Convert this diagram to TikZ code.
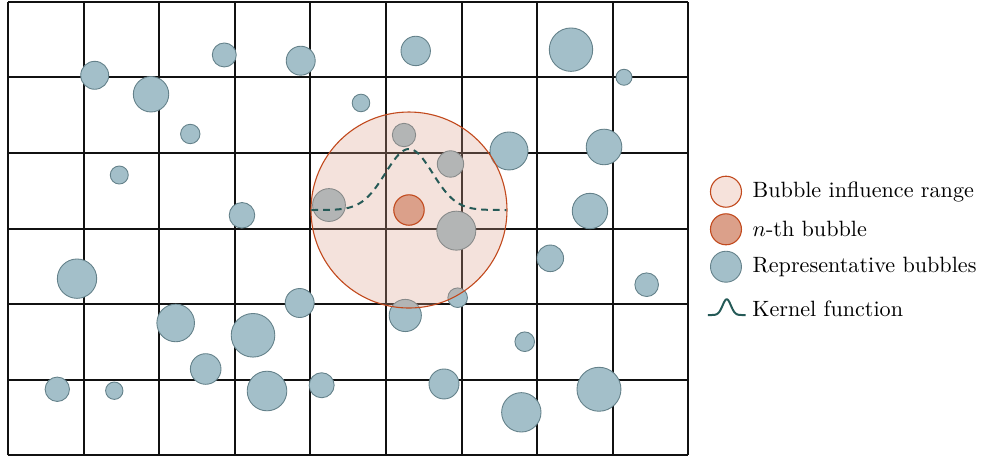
\documentclass[tikz,border=0pt]{standalone}
\usepackage{amsmath}
\usepackage{tikz}
\usetikzlibrary{positioning}
\usepackage{xcolor}
\definecolor{gridblack}{HTML}{111111}
\definecolor{bubblefill}{HTML}{A3BFC9}
\definecolor{bubbleline}{HTML}{64818A}
\definecolor{nthfill}{HTML}{DBA08A}
\definecolor{nthline}{HTML}{C24A1E}
\definecolor{rangefill}{HTML}{F6E2DB}
\definecolor{kernelteal}{HTML}{255A57}
\tikzset{
  gridline/.style={draw=gridblack, line width=0.9pt},
  bubble/.style={circle, draw=bubbleline, line width=0.4pt, fill=bubblefill, inner sep=0pt, minimum size=#1},
  nthbubble/.style={circle, draw=nthline, line width=0.5pt, fill=nthfill, inner sep=0pt, minimum size=#1},
  rangecircle/.style={circle, draw=nthline, line width=0.5pt, fill=nthfill, fill opacity=0.3, inner sep=0pt, minimum size=#1},
  rangelegend/.style={circle, draw=nthline, line width=0.5pt, fill=rangefill, inner sep=0pt, minimum size=#1},
  kernel/.style={draw=kernelteal, line width=0.9pt},
  legendtext/.style={inner sep=3.33pt, align=left}
}

\begin{document}
\begin{tikzpicture}[x=1.2cm, y=1.2cm, node distance=1.3pt]
  \useasboundingbox (-0.1058,-0.0066) rectangle (12.910,6.025);
  % grid of cells
  \draw[gridline, step=1.2cm] (0,0) grid (9,6);
  % representative bubbles: x / y / diameter
  \foreach \bx/\by/\bd [count=\i] in {
      1.147/5.029/0.444, 1.892/4.778/0.562, 2.861/5.298/0.381, 3.872/5.222/0.460,
      5.393/5.351/0.467, 7.447/5.368/0.689, 8.148/5.003/0.254, 4.669/4.663/0.279,
      2.411/4.253/0.308, 5.238/4.239/0.371, 6.627/4.028/0.603, 7.884/4.081/0.565,
      5.853/3.856/0.419, 1.472/3.710/0.286, 4.246/3.313/0.521, 3.095/3.177/0.406,
      7.698/3.234/0.562, 5.930/2.974/0.619, 0.913/2.339/0.625, 7.173/2.608/0.422,
      8.448/2.259/0.375, 3.858/2.017/0.460, 5.948/2.087/0.311, 5.255/1.852/0.511,
      2.218/1.753/0.597, 3.241/1.590/0.692, 6.835/1.505/0.311, 2.615/1.144/0.486,
      0.652/0.876/0.387, 1.406/0.857/0.276, 3.426/0.853/0.629, 4.149/0.929/0.397,
      5.767/0.946/0.476, 6.790/0.571/0.625, 7.817/0.876/0.698}
    \node[bubble=\bd cm] (b\i) at (\bx,\by) {};
  % influence range and n-th bubble
  \coordinate (nc) at (5.304,3.247);
  \node[rangecircle=3.111cm] (range) at (nc) {};
  \node[nthbubble=0.483cm] (nth) at (nc) {};
  % kernel over the range
  \draw[kernel, dash pattern=on 3pt off 2.3pt] plot[domain=-1.29:1.29, samples=90, smooth]
    ({5.304+\x},{3.247+0.807*exp(-(\x*\x)/(2*0.311*0.311))});
  % legend
  \node[rangelegend=0.492cm] (lrange) at (9.497,3.489) {};
  \node[nthbubble=0.492cm] (lnth) at (9.497,2.992) {};
  \node[bubble=0.492cm] (lrep) at (9.497,2.497) {};
  \node[legendtext, right=of lrange] (trange) {Bubble influence range};
  \node[legendtext, right=of lnth] (tnth) {$n$-th bubble};
  \node[legendtext, right=of lrep] (trep) {Representative bubbles};
  \draw[kernel] plot[domain=-0.25:0.25, samples=50, smooth]
    ({9.507+\x},{1.858+0.208*exp(-(\x*\x)/(2*0.055*0.055))});
  \node[legendtext, anchor=west] (tkernel) at (9.742,1.937) {Kernel function};
\end{tikzpicture}
\end{document}
